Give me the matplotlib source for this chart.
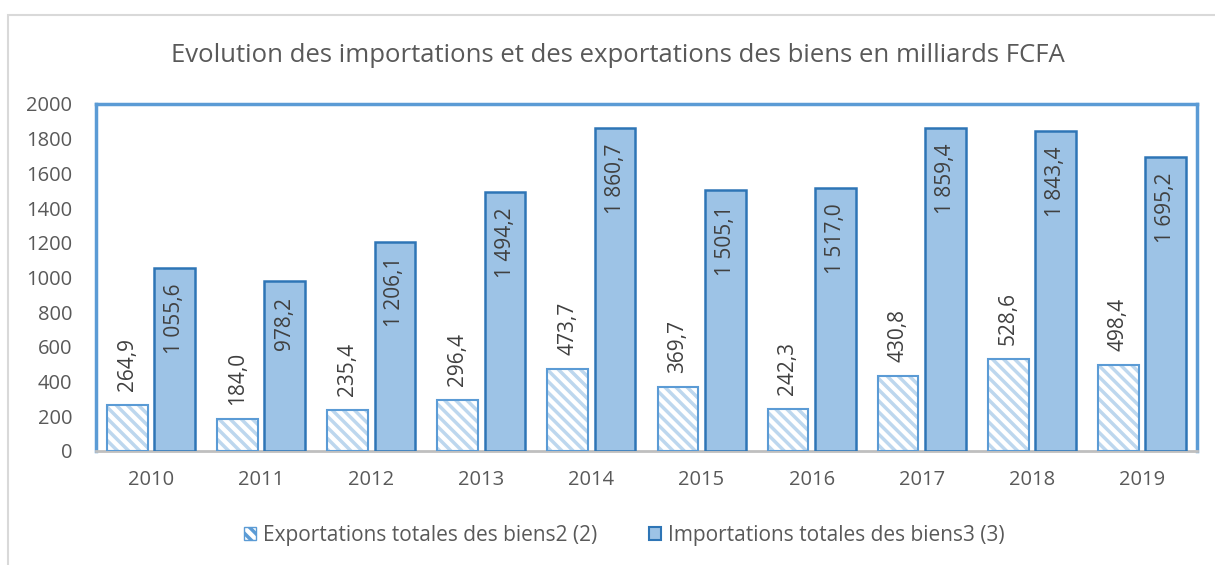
import matplotlib.pyplot as plt
import matplotlib.patches as mpatches
import numpy as np

plt.rcParams['font.family'] = ['Open Sans', 'DejaVu Sans']
plt.rcParams['hatch.linewidth'] = 2.5

years = ['2010', '2011', '2012', '2013', '2014', '2015', '2016', '2017', '2018', '2019']
exports = [264.9, 184.0, 235.4, 296.4, 473.7, 369.7, 242.3, 430.8, 528.6, 498.4]
imports = [1055.6, 978.2, 1206.1, 1494.2, 1860.7, 1505.1, 1517.0, 1859.4, 1843.4, 1695.2]
export_label = 'Exportations totales des biens2 (2)'
import_label = 'Importations totales des biens3 (3)'
title = 'Evolution des importations et des exportations des biens en milliards FCFA'

TXT = '#595959'
HATCH = '#BDD7EE'
EXP_EDGE = '#5B9BD5'
IMP_FILL = '#9DC3E6'
IMP_EDGE = '#2E75B6'


def fr(v):
    s = f'{v:,.1f}'
    return s.replace(',', ' ').replace('.', ',')


fig = plt.figure(figsize=(12.15, 5.65), dpi=100)
# outer chart border
fig.patches.append(mpatches.Rectangle((8 / 1215, -0.1), 1.2, 1 - 15 / 565 + 0.1,
                                      transform=fig.transFigure, fill=False,
                                      edgecolor='#D9D9D9', lw=1.5))
ax = fig.add_axes([96 / 1215, 114 / 565, 1101 / 1215, 347 / 565])

x = np.arange(len(years))
w = 0.37
off = 0.215
ax.bar(x - off, exports, w, color='white', edgecolor=HATCH, hatch='\\\\\\', lw=0, zorder=2)
ax.bar(x - off, exports, w, fill=False, edgecolor=EXP_EDGE, lw=1.5, zorder=3)
ax.bar(x + off, imports, w, color=IMP_FILL, edgecolor=IMP_EDGE, lw=1.8, zorder=3)

for xi, v in zip(x, exports):
    ax.annotate(fr(v), (xi - off, v), xytext=(0, 10), textcoords='offset points',
                rotation=90, ha='center', va='bottom', fontsize=15, color='#404040')
for xi, v in zip(x, imports):
    ax.annotate(fr(v), (xi + off, v), xytext=(0, -11), textcoords='offset points',
                rotation=90, ha='center', va='top', fontsize=15, color='#404040')

ax.set_xlim(-0.5, len(years) - 0.5)
ax.set_ylim(0, 2000)
ax.set_yticks(range(0, 2001, 200))
ax.set_xticks(x)
ax.set_xticklabels(years)
ax.tick_params(length=0, labelsize=14.5, colors=TXT)
ax.tick_params(axis='x', pad=14)
ax.tick_params(axis='y', pad=17)
for side in ['left', 'top', 'right']:
    ax.spines[side].set_color(EXP_EDGE)
    ax.spines[side].set_linewidth(2.5)
ax.spines['bottom'].set_color('#BFBFBF')
ax.spines['bottom'].set_linewidth(2)

fig.text(618 / 1215, 1 - 55 / 565, title, ha='center', va='center', fontsize=18.5, color=TXT)

h1 = mpatches.Patch(facecolor='white', edgecolor=EXP_EDGE, hatch='\\\\\\', lw=1)
h2 = mpatches.Patch(facecolor=IMP_FILL, edgecolor=IMP_EDGE, lw=1.5)
leg = fig.legend([h1, h2], [export_label, import_label], loc='center',
                 bbox_to_anchor=(624 / 1215, 1 - 535 / 565), ncol=2, frameon=False,
                 fontsize=15, handlelength=0.6, handleheight=0.6, handletextpad=0.3,
                 columnspacing=2.5, labelcolor=TXT)

fig.savefig('out.png', dpi=100)
